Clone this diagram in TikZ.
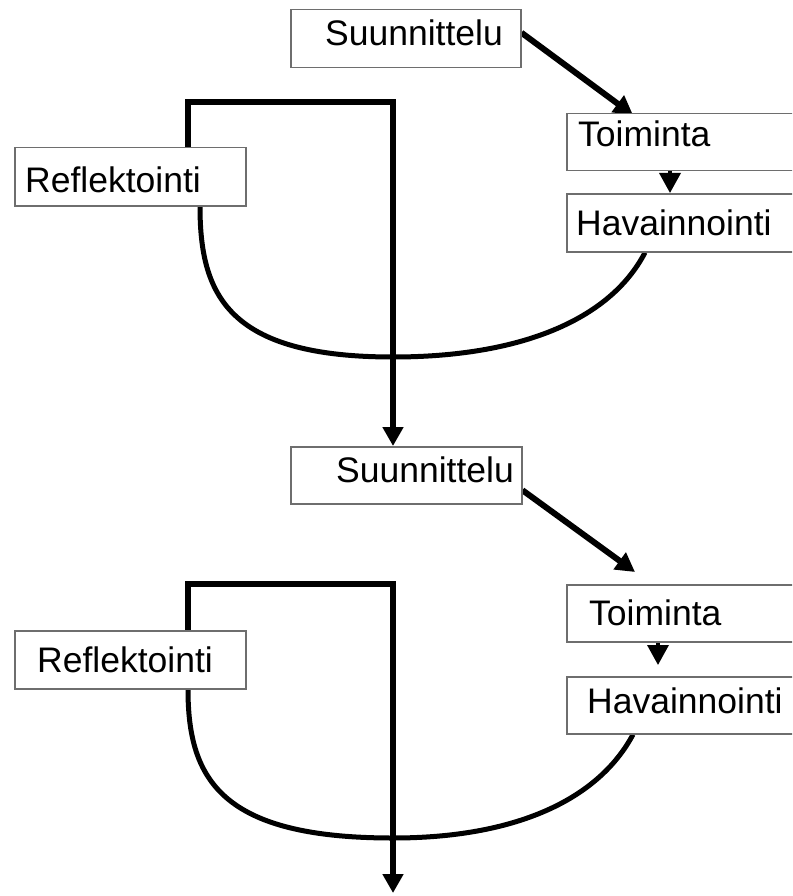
\documentclass[tikz,border=0pt]{standalone}
\usepackage{fontspec}
\setmainfont{Liberation Sans}
\usetikzlibrary{arrows.meta,backgrounds,calc}
\definecolor{boxgray}{HTML}{6E6E6E}
\tikzset{
  box/.style={draw=boxgray, line width=1.5pt, fill=white, anchor=north west, inner sep=0pt},
  txt/.style={anchor=base west, inner sep=0pt, font=\fontsize{35.5}{40}\selectfont},
  thickline/.style={line width=6pt, line join=miter},
  curveline/.style={line width=5pt},
  medline/.style={line width=3.5pt},
  bigtip/.style={-{Triangle[length=19pt,width=20pt]}},
  smalltip/.style={-{Triangle[length=20pt,width=21pt]}},
}
\begin{document}
\begin{tikzpicture}[x=1pt,y=-1pt]
\useasboundingbox (0,0) rectangle (792,896);
\clip (0,0) rectangle (792,896);
% boxes
\node[box, minimum width=230pt, minimum height=58pt] (s1) at (290,9) {};
\node[box, minimum width=240pt, minimum height=57pt] (t1) at (566,113) {};
\node[box, minimum width=240pt, minimum height=58pt] (h1) at (566,193) {};
\node[box, minimum width=231pt, minimum height=58pt] (r1) at (14,147) {};
\node[box, minimum width=231pt, minimum height=57pt] (s2) at (290,446) {};
\node[box, minimum width=240pt, minimum height=57pt] (t2) at (566,584) {};
\node[box, minimum width=240pt, minimum height=57pt] (h2) at (566,676) {};
\node[box, minimum width=231pt, minimum height=58pt] (r2) at (14,630) {};
% texts
\node[txt] (s1t) at (325,46) {Suunnittelu};
\node[txt] (t1t) at (578,147) {Toiminta};
\node[txt] (h1t) at (576,235) {Havainnointi};
\node[txt] (r1t) at (25,193) {Reflektointi};
\node[txt] (s2t) at (336,482) {Suunnittelu};
\node[txt] (t2t) at (589,625) {Toiminta};
\node[txt] (h2t) at (587,713) {Havainnointi};
\node[txt] (r2t) at (37,672) {Reflektointi};
\coordinate (end2) at (393,893);
\begin{scope}[on background layer]
% first cycle
\draw[thickline, bigtip] ($(s1.east)+(0,-6)$) -- ($(t1.north west)+(67,2)$);
\draw[medline, smalltip] ($(t1.south west)+(104,0)$) -- ($(h1.north west)+(104,0)$);
\draw[thickline, bigtip] ($(r1.north west)+(174,0)$) -- ++(0,-45) -- ++(205,0) -- ($(s2.north west)+(103,0)$);
\draw[curveline] ($(h1.south west)+(79,0)$) .. controls (610,320) and (520,357) .. (393,357)
   .. controls (228,357) and (200,295) .. ($(r1.south west)+(186,0)$);
% second cycle
\draw[thickline, bigtip] ($(s2.east)+(0,15)$) -- ($(t2.north west)+(69,-12)$);
\draw[medline, smalltip] ($(t2.south west)+(92,0)$) -- ($(h2.north west)+(92,-11)$);
\draw[thickline, bigtip] ($(r2.north west)+(174,0)$) -- ++(0,-46) -- ++(205,0) -- (end2);
\draw[curveline] ($(h2.south west)+(67,0)$) .. controls (598,800) and (515,838) .. (393,838)
   .. controls (222,838) and (188,780) .. ($(r2.south west)+(174,0)$);
\end{scope}
\end{tikzpicture}
\end{document}
